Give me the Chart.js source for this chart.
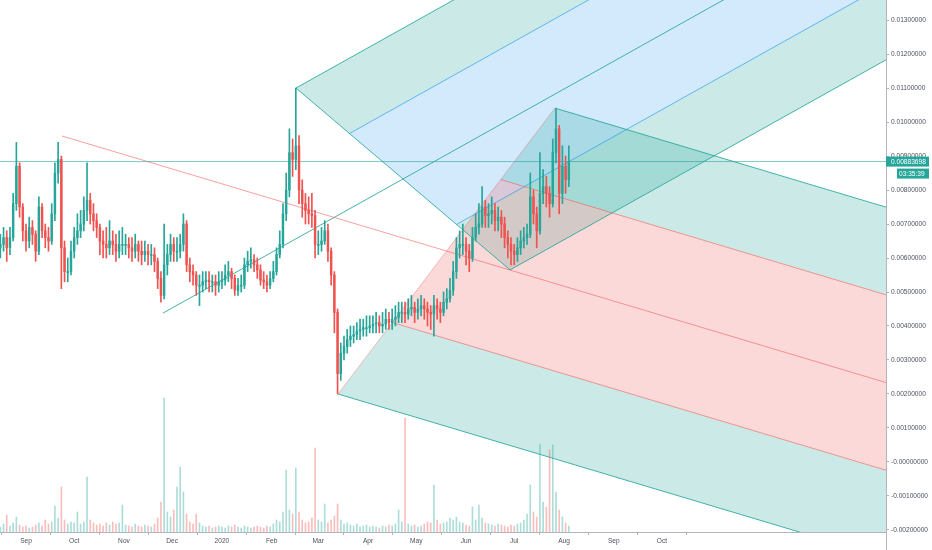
<!DOCTYPE html>
<html>
<head>
<meta charset="utf-8">
<script src="https://cdn.jsdelivr.net/npm/chart.js@4.4.1/dist/chart.umd.min.js"></script>
<style>
  html, body { margin: 0; padding: 0; background: #fff; overflow: hidden; }
  #wrap { width: 932px; height: 550px; position: relative; }
</style>
</head>
<body>
<div id="wrap"><canvas id="chart"></canvas></div>
<script>
// day 0 = 1 Sep 2019, one candle every 2 days, prices in units of 0.001
const firstDay = -16;
const barDays = 2;

const opens = [6.3,6.4,6.6,6.3,6.6,7.6,8.7,7.5,6.8,6.5,
  6.9,6.7,6.2,7.5,6.8,6.6,6.5,7.3,8.5,8.9,
  6.3,5.6,5.6,6.2,6.6,6.8,7.0,7.4,7.7,7.3,
  7.1,6.9,6.5,6.4,6.3,6.5,6.4,6.2,6.4,6.4,
  6.4,6.3,6.2,6.4,6.2,6.1,6.2,6.1,6.1,5.9,
  5.4,4.9,5.8,6.1,6.4,6.2,6.2,6.4,7.0,5.8,
  5.6,5.5,5.2,5.2,5.3,5.35,5.3,5.3,5.2,5.3,
  5.35,5.5,5.6,5.4,5.05,5.2,5.2,5.8,5.9,5.95,
  5.8,5.65,5.35,5.3,5.2,5.4,5.6,6.1,6.4,7.3,
  8.0,9.1,8.9,9.3,8.0,7.6,7.4,7.3,7.25,6.4,
  6.4,6.5,6.8,6.2,5.5,4.4,2.6,3.2,3.4,3.6,
  3.7,3.75,3.85,3.9,3.95,3.95,4.0,4.05,4.1,4.0,
  4.05,4.2,4.1,4.2,4.25,4.4,4.4,4.35,4.5,4.55,
  4.4,4.5,4.6,4.5,4.4,4.35,4.6,4.5,4.4,4.7,
  4.8,5.05,5.6,6.3,6.4,6.4,6.2,6.0,6.6,6.9,
  7.0,7.5,7.25,7.3,7.4,7.1,7.2,7.0,6.6,6.4,
  6.2,6.1,6.3,6.5,6.6,6.7,7.8,7.3,6.8,7.9,
  8.1,7.9,7.6,9.1,9.8,7.9,8.7,8.3];

const closes = [6.4,6.6,6.3,6.6,7.6,8.7,7.5,6.8,6.5,6.9,
  6.7,6.2,7.5,6.8,6.6,6.5,7.3,8.5,8.9,6.3,
  5.6,5.6,6.2,6.6,6.8,7.0,7.4,7.7,7.3,7.1,
  6.9,6.5,6.4,6.3,6.5,6.4,6.2,6.4,6.4,6.4,
  6.3,6.2,6.4,6.2,6.1,6.2,6.1,6.1,5.9,5.4,
  4.9,5.8,6.1,6.4,6.2,6.2,6.4,7.0,5.8,5.6,
  5.5,5.2,5.2,5.3,5.35,5.3,5.3,5.2,5.3,5.35,
  5.5,5.6,5.4,5.05,5.2,5.2,5.8,5.9,5.95,5.8,
  5.65,5.35,5.3,5.2,5.4,5.6,6.1,6.4,7.3,8.0,
  9.1,8.9,9.3,8.0,7.6,7.4,7.3,7.25,6.4,6.4,
  6.5,6.8,6.2,5.5,4.4,2.6,3.2,3.4,3.6,3.7,
  3.75,3.85,3.9,3.95,3.95,4.0,4.05,4.1,4.0,4.05,
  4.2,4.1,4.2,4.25,4.4,4.4,4.35,4.5,4.55,4.4,
  4.5,4.6,4.5,4.4,4.35,4.6,4.5,4.4,4.7,4.8,
  5.05,5.6,6.3,6.4,6.4,6.2,6.0,6.6,6.9,7.0,
  7.5,7.25,7.3,7.4,7.1,7.2,7.0,6.6,6.4,6.2,
  6.1,6.3,6.5,6.6,6.7,7.8,7.3,6.8,7.9,8.1,
  7.9,7.6,9.1,9.8,7.9,8.7,8.3,8.83698];

const highs = [6.7,6.9,6.8,6.9,7.9,9.4,8.8,7.6,7.0,7.2,
  7.1,6.8,7.8,7.6,7.0,6.9,7.6,8.8,9.4,9.0,
  6.5,6.0,6.5,6.9,7.3,7.4,7.8,8.8,7.9,7.6,
  7.3,7.0,6.8,6.9,7.1,6.8,6.7,6.8,6.9,6.7,
  6.6,6.6,6.7,6.5,6.5,6.5,6.4,6.4,6.3,6.0,
  5.6,7.0,6.4,6.7,6.6,6.6,6.7,7.3,7.1,6.0,
  5.8,5.6,5.5,5.6,5.6,5.6,5.5,5.5,5.6,5.6,
  5.8,5.9,5.7,5.5,5.4,5.5,6.0,6.2,6.3,6.1,
  6.0,5.8,5.6,5.5,5.6,5.9,6.3,6.8,7.6,8.5,
  9.8,9.5,11.0,9.6,8.3,7.9,7.8,7.9,7.4,6.8,
  6.9,7.1,7.0,6.3,5.6,4.5,3.5,3.7,3.9,4.0,
  4.0,4.1,4.2,4.2,4.3,4.3,4.3,4.4,4.3,4.4,
  4.5,4.4,4.5,4.6,4.7,4.7,4.7,4.8,4.9,4.7,
  4.8,4.9,4.8,4.7,4.6,4.9,4.8,4.7,5.0,5.1,
  5.4,5.9,6.6,6.8,7.0,6.6,6.4,6.9,7.3,7.6,
  8.1,7.7,7.6,7.8,7.6,7.5,7.4,7.2,6.8,6.6,
  6.4,6.6,6.8,6.9,7.0,8.5,8.0,7.5,9.1,8.6,
  8.4,8.1,9.5,10.4,9.9,9.3,9.0,9.3];

const lows = [6.0,6.2,5.9,6.1,6.5,7.4,7.2,6.5,6.2,6.3,
  6.4,5.9,6.1,6.6,6.3,6.2,6.4,7.1,8.2,5.1,
  5.3,5.3,5.5,6.0,6.4,6.6,6.8,7.1,7.0,6.8,
  6.6,6.1,6.0,6.0,6.1,6.1,5.9,6.0,6.1,6.1,
  6.0,5.9,6.0,5.9,5.8,5.9,5.8,5.8,5.6,5.1,
  4.7,4.8,5.5,5.9,5.9,5.9,6.0,6.2,5.6,5.3,
  5.2,4.9,4.6,5.0,5.1,5.0,5.0,4.9,5.0,5.1,
  5.2,5.3,5.1,4.9,4.9,5.0,5.1,5.6,5.7,5.6,
  5.4,5.2,5.1,5.0,5.1,5.3,5.5,6.0,6.3,7.1,
  7.8,8.4,8.6,7.6,7.2,7.0,7.0,6.9,6.0,6.1,
  6.2,6.4,5.9,5.2,3.8,2.0,2.4,3.0,3.2,3.4,
  3.5,3.6,3.6,3.7,3.7,3.8,3.8,3.8,3.8,3.8,
  3.9,3.9,3.9,4.0,4.1,4.1,4.1,4.2,4.3,4.1,
  4.2,4.3,4.2,4.0,3.9,3.7,4.2,4.1,4.3,4.5,
  4.7,4.9,5.4,6.0,6.1,5.8,5.6,5.9,6.5,6.7,
  6.9,6.9,6.9,7.0,6.8,6.8,6.6,6.3,6.0,5.8,
  5.8,5.9,6.1,6.3,6.4,6.6,7.0,6.3,6.7,7.6,
  7.5,7.2,7.5,8.8,7.3,7.6,7.9,8.1];

const volumes = [5,8,17,6,9,15,7,5,6,4,
  5,7,9,6,12,8,10,26,14,45,
  12,8,10,9,20,8,10,55,12,9,
  7,8,6,9,7,10,8,9,27,7,
  6,5,8,6,5,7,6,5,8,14,
  30,134,20,15,22,45,65,40,18,10,
  8,18,9,6,5,6,4,5,6,5,
  4,6,5,7,5,4,6,5,4,5,
  6,5,4,6,5,8,12,10,20,62,
  22,18,64,20,12,9,10,14,84,12,
  10,28,9,12,16,28,12,8,9,7,
  6,8,5,6,7,5,6,5,4,6,
  5,7,6,8,22,10,114,8,6,7,
  5,6,8,10,9,47,12,8,9,10,
  14,12,15,10,9,7,6,25,12,27,
  14,9,8,7,6,8,7,6,5,7,
  6,8,9,12,18,47,20,15,88,30,
  25,82,87,40,22,15,9,6];

// month ticks
const tickDays = [0, 30, 61, 91, 122, 153, 182, 213, 243, 274, 304, 335, 366, 396];
const tickLabels = ['Sep', 'Oct', 'Nov', 'Dec', '2020', 'Feb', 'Mar', 'Apr', 'May', 'Jun', 'Jul', 'Aug', 'Sep', 'Oct'];
const priceTicks = [-2, -1, 0, 1, 2, 3, 4, 5, 6, 7, 8, 9, 10, 11, 12, 13];

// pitchfork anchor points (day, price)
const forkDownDays = [22.4, 194.3, 329.4];
const forkDownPrices = [9.59, 2.0, 10.41];
const forkUpDays = [85.3, 168.1, 301.4];
const forkUpPrices = [4.38, 11.0, 5.65];

const dayMin = -16.2;
const dayMax = 535.5;
const farDay = 620;
const lastPrice = closes[closes.length - 1];

const UP = '#26a69a';
const DOWN = '#ef5350';

const days = closes.map((c, i) => firstDay + i * barDays);
const isUp = closes.map((c, i) => c >= opens[i]);

function fork(daysArr, pricesArr) {
    const p1 = {x: daysArr[0], y: pricesArr[0]};
    const p2 = {x: daysArr[1], y: pricesArr[1]};
    const p3 = {x: daysArr[2], y: pricesArr[2]};
    const mid = {x: (p2.x + p3.x) / 2, y: (p2.y + p3.y) / 2};
    const dir = {x: mid.x - p1.x, y: mid.y - p1.y};
    const ray = s => ({x: farDay, y: s.y + (farDay - s.x) / dir.x * dir.y});
    const at = k => ({x: mid.x + k * (p3.x - p2.x) / 2, y: mid.y + k * (p3.y - p2.y) / 2});
    return {p1, p2, p3, ray, at};
}

function levelLine(f, k, color) {
    const s = f.at(k);
    return {type: 'line', data: [s, f.ray(s)], borderColor: color, borderWidth: 1,
        pointRadius: 0, fill: false, order: 4};
}

function band(f, k1, k2, color) {
    const a = f.at(k1), b = f.at(k2);
    return {type: 'line', data: [a, f.ray(a), f.ray(b), b], borderWidth: 0,
        backgroundColor: color, pointRadius: 0, fill: 'shape', order: 6};
}

const fDown = fork(forkDownDays, forkDownPrices);
const fUp = fork(forkUpDays, forkUpPrices);

const GREEN_FILL = 'rgba(38,166,154,0.24)';
const RED_FILL = 'rgba(239,83,80,0.22)';
const BLUE_FILL = 'rgba(33,150,243,0.2)';
const TEAL_LINE = 'rgba(38,166,154,0.85)';
const RED_LINE = 'rgba(239,83,80,0.55)';
const BLUE_LINE = 'rgba(33,150,243,0.65)';

const forkSets = [
    band(fDown, -1, -0.5, GREEN_FILL),
    band(fDown, -0.5, 0.5, RED_FILL),
    band(fDown, 0.5, 1, GREEN_FILL),
    band(fUp, -1, -0.5, GREEN_FILL),
    band(fUp, -0.5, 0.5, BLUE_FILL),
    band(fUp, 0.5, 1, GREEN_FILL),
    levelLine(fDown, -1, TEAL_LINE),
    levelLine(fDown, -0.5, RED_LINE),
    levelLine(fDown, 0.5, RED_LINE),
    levelLine(fDown, 1, TEAL_LINE),
    levelLine(fUp, -1, TEAL_LINE),
    levelLine(fUp, -0.5, BLUE_LINE),
    levelLine(fUp, 0.5, BLUE_LINE),
    levelLine(fUp, 1, TEAL_LINE),
    // medians from the handle point
    {type: 'line', data: [fDown.p1, fDown.ray(fDown.p1)], borderColor: RED_LINE, borderWidth: 1, pointRadius: 0, order: 4},
    {type: 'line', data: [fUp.p1, fUp.ray(fUp.p1)], borderColor: TEAL_LINE, borderWidth: 1, pointRadius: 0, order: 4},
    // lines joining points 2 and 3
    {type: 'line', data: [fDown.p2, fDown.p3], borderColor: 'rgba(239,83,80,0.35)', borderWidth: 1, pointRadius: 0, order: 4},
    {type: 'line', data: [fUp.p2, fUp.p3], borderColor: TEAL_LINE, borderWidth: 1, pointRadius: 0, order: 4}
];

const priceTag = {
    id: 'priceTag',
    afterDraw(chart) {
        const {ctx} = chart;
        const y = chart.scales.y;
        const py = y.getPixelForValue(lastPrice);
        const left = y.left;
        ctx.save();
        // axis line runs on to the bottom edge
        ctx.strokeStyle = '#b2b5be';
        ctx.lineWidth = 1;
        ctx.beginPath();
        ctx.moveTo(left + 0.5, chart.chartArea.bottom);
        ctx.lineTo(left + 0.5, chart.height);
        ctx.stroke();
        ctx.fillStyle = UP;
        ctx.fillRect(left, py - 5, chart.width - left - 3, 10);
        ctx.fillRect(left + 11, py + 7, chart.width - left - 14, 10);
        ctx.fillStyle = '#fff';
        ctx.font = '6.6px "Liberation Sans", Arial, sans-serif';
        ctx.textBaseline = 'middle';
        ctx.fillText((lastPrice / 1000).toFixed(8), left + 5, py + 0.5);
        ctx.fillText('03:35:39', left + 13, py + 12.5);
        ctx.restore();
    }
};

Chart.defaults.font.family = '"Liberation Sans", Arial, sans-serif';
Chart.defaults.font.size = 6.6;
Chart.defaults.color = '#4c525e';

new Chart(document.getElementById('chart'), {
    type: 'bar',
    data: {
        datasets: [
            {
                data: days.map((d, i) => ({x: d, y: [opens[i], closes[i]]})),
                backgroundColor: isUp.map(u => u ? UP : DOWN),
                barThickness: 1.8, grouped: false, minBarLength: 1, order: 0
            },
            {
                data: days.map((d, i) => ({x: d, y: [lows[i], highs[i]]})),
                backgroundColor: isUp.map(u => u ? UP : DOWN),
                barThickness: 1, grouped: false, order: 1
            },
            {
                type: 'line',
                data: [{x: dayMin - 10, y: lastPrice}, {x: farDay, y: lastPrice}],
                borderColor: 'rgba(38,166,154,0.6)', borderWidth: 1, pointRadius: 0, order: 2
            },
            {
                data: days.map((d, i) => ({x: d, y: volumes[i]})),
                backgroundColor: isUp.map(u => u ? 'rgba(38,166,154,0.38)' : 'rgba(239,83,80,0.38)'),
                barThickness: 1, grouped: false, yAxisID: 'yv', order: 3
            },
            ...forkSets
        ]
    },
    options: {
        responsive: true,
        maintainAspectRatio: false,
        animation: false,
        layout: {padding: 0},
        plugins: {legend: {display: false}, tooltip: {enabled: false}},
        scales: {
            x: {
                type: 'linear',
                min: dayMin,
                max: dayMax,
                offset: false,
                grid: {display: true, drawOnChartArea: false, drawTicks: true, tickLength: 3, color: '#b2b5be'},
                border: {display: true, color: '#b2b5be'},
                ticks: {autoSkip: false, maxRotation: 0, padding: 2, callback: (v, i) => tickLabels[i]},
                afterBuildTicks: s => { s.ticks = tickDays.map(v => ({value: v})); },
                afterFit: s => { s.height = 18; s.paddingLeft = 0; s.paddingRight = 0; }
            },
            y: {
                position: 'right',
                min: -2.06,
                max: 13.59,
                grid: {display: true, drawOnChartArea: false, drawTicks: true, tickLength: 3, color: '#b2b5be'},
                border: {display: true, color: '#b2b5be'},
                ticks: {autoSkip: false, padding: 2,
                    callback: v => v === 0 ? '-0.00000000' : (v / 1000).toFixed(8)},
                afterBuildTicks: s => { s.ticks = priceTicks.map(v => ({value: v})); },
                afterFit: s => { s.width = 46; s.paddingTop = 0; s.paddingBottom = 0; }
            },
            yv: {
                display: false,
                min: 0,
                max: 532
            }
        }
    },
    plugins: [priceTag]
});
</script>
</body>
</html>
